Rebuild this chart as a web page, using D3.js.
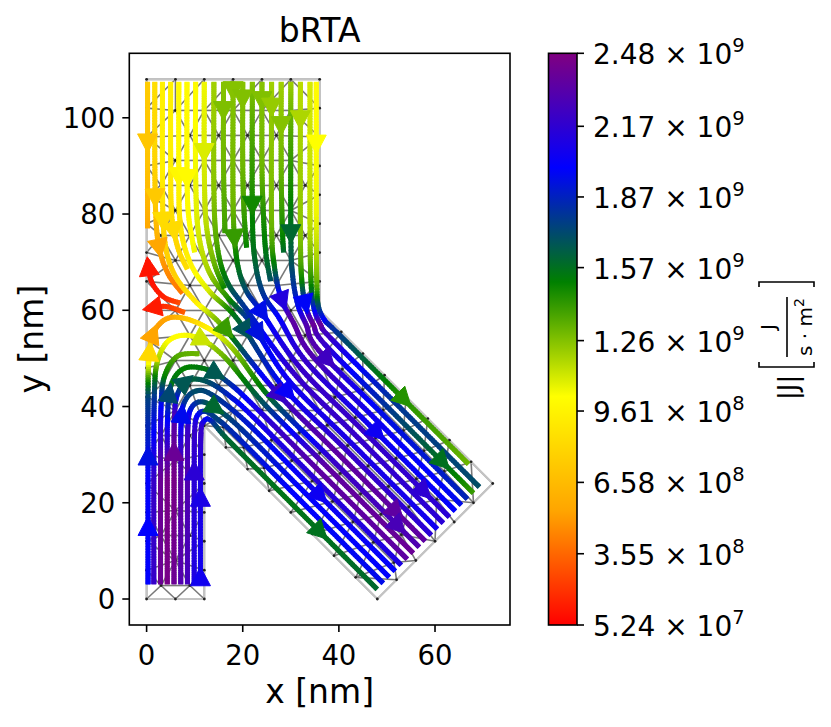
<!DOCTYPE html>
<html><head><meta charset="utf-8">
<script src="https://cdn.jsdelivr.net/npm/d3@7"></script>
<style>body{margin:0;background:#fff} text{font-family:"DejaVu Sans",sans-serif;fill:#000}</style>
</head><body><svg id="c" width="831" height="727"></svg>
<script>
// ---------------- data ----------------
const titleText = "bRTA";
const xTicks = [0, 20, 40, 60];
const yTicks = [0, 20, 40, 60, 80, 100];
const xDomain = [-3.6, 75.6];
const yDomain = [-5.4, 113.4];
const cbTickValues = [0.0524, 0.355, 0.658, 0.961, 1.26, 1.57, 1.87, 2.17, 2.48];
const cbTickMant = ["5.24", "3.55", "6.58", "9.61", "1.26", "1.57", "1.87", "2.17", "2.48"];
const cbTickExp = ["7", "8", "8", "8", "9", "9", "9", "9", "9"];
const cmapColors = ["red", "orange", "yellow", "green", "blue", "purple"];
const magRange = [0.0524, 2.48];   // |J| in 1e9 J/(s m^2)
const boundary = [[0,0],[12,0],[12,36],[48,0],[72,24],[36,60],[36,108],[0,108]];
const meshSpacing = 6;

// streamlines (nm) with |J| (1e9) at each control point; arrows at control-point parameter
const streamPaths = [
  [[0.2,107.5],[0.2,90],[0.2,77]],
  [[1.7,107.5],[1.7,92],[1.9,80],[2.6,73],[4.5,67.5],[7.5,63.5]],
  [[3.3,107.5],[3.3,90],[3.6,76],[5.5,68],[10,62],[16,56.5],[27,43],[40,30],[58,12]],
  [[5,107.5],[5,92],[5.2,80],[6.5,73],[8.5,68.5]],
  [[6.7,107.5],[6.7,90],[7,78],[9,70],[13,64],[19,58],[28.25,44.25],[41.25,31.25],[59.25,13.25]],
  [[8.4,107.5],[8.4,90],[8.7,80],[10,72]],
  [[10.2,107.5],[10.2,88],[10.8,76],[13,68],[17,62.5],[22,57],[29.5,45.5],[42.5,32.5],[60.5,14.5]],
  [[12,107.5],[12,90],[12.4,78],[14,70],[16.2,64.5]],
  [[14,107.5],[14,85],[14.6,74],[16.5,66.5],[20.5,60.5],[30.75,46.75],[43.75,33.75],[61.75,15.75]],
  [[16,107.5],[16,90],[16.3,76]],
  [[18,107.5],[18,82],[18.7,71],[20.5,64.5],[24,59.5],[32,48],[45,35],[63,17]],
  [[20,107.5],[20,90],[20.3,80],[20.8,73]],
  [[22,107.5],[22,80],[22.6,70],[24.3,63.3],[27.5,58.5],[33.25,49.25],[46.25,36.25],[64.25,18.25]],
  [[24,107.5],[24,90],[24.3,80],[24.8,72],[25.8,66]],
  [[26,107.5],[26,78],[26.6,69],[28,62.5],[30.5,57.5],[34.5,50.5],[47.5,37.5],[65.5,19.5]],
  [[28,107.5],[28,90],[28.2,78],[28.5,72]],
  [[30,107.5],[30,76],[30.4,67],[31.5,61],[33.2,57],[35.75,51.75],[48.75,38.75],[66.75,20.75]],
  [[32,107.5],[32,76],[32.3,66],[33.2,60.5],[34.7,57],[37,53],[50,40],[68,22]],
  [[34,107.5],[34,78],[34.2,66],[34.8,60.5],[36.2,57],[38.25,54.25],[51.25,41.25],[69.25,23.25]],
  [[35.3,107.5],[35.3,80],[35.4,66],[35.7,61],[37,58],[39.5,55.5],[52.5,42.5],[67,28]],
  [[11.2,3],[11.2,25],[11.3,34.5],[11.8,36.8],[13.3,37.2],[17,33],[30,20],[48,2]],
  [[9.9,3],[9.9,25],[10,35],[10.6,38.2],[12.3,39],[14.8,37.3],[18.25,34.25],[31.25,21.25],[49.25,3.25]],
  [[8.5,3],[8.5,25],[8.6,36],[9.3,39.7],[11.3,41],[14.3,39.7],[19.5,35.5],[32.5,22.5],[50.5,4.5]],
  [[7.1,3],[7.1,25],[7.2,37],[8,41.2],[10.2,43.2],[13.5,42.5],[20.75,36.75],[33.75,23.75],[51.75,5.75]],
  [[5.7,3],[5.7,25],[5.8,38],[6.6,43],[9,45.6],[13,45],[17.5,42],[22,38],[35,25],[53,7]],
  [[4.3,3],[4.3,25],[4.4,39],[5.3,45],[8,48],[12.5,47.7],[17,45],[23.25,39.25],[36.25,26.25],[54.25,8.25]],
  [[2.9,3],[2.9,25],[3,40],[3.8,46.5],[6.5,50.5],[11,51]],
  [[1.5,3],[1.5,25],[1.6,42],[2.3,49.5],[5,54],[10,54.5],[16,50.5],[24.5,40.5],[37.5,27.5],[55.5,9.5]],
  [[0.3,3],[0.3,25],[0.3,42],[0.5,50],[1.5,55.5],[5,58.5],[11,57.2],[17.5,52.5],[25.75,41.75],[38.75,28.75],[56.75,10.75]],
  [[7,61.5],[3.5,62.8],[1,66],[0.2,70.5]],
  [[8,59.5],[4,60.8],[0.5,60.4]]
];
const streamMags = [
  [0.75,0.7,0.55],
  [0.85,0.8,0.7,0.55,0.45,0.4],
  [0.95,0.95,0.8,0.75,0.9,1.35,2.2,2.35,2.35],
  [0.95,0.95,0.85,0.8,0.85],
  [1.0,1.0,0.9,0.95,1.1,1.6,2.0,2.2,2.15],
  [1.0,1.0,1.0,1.05],
  [1.0,1.05,1.1,1.2,1.45,1.9,2.05,2.1,2.05],
  [1.05,1.1,1.15,1.3,1.5],
  [1.2,1.25,1.35,1.55,1.8,2.2,2.2,2.15],
  [1.25,1.3,1.4],
  [1.25,1.3,1.5,1.7,1.95,2.2,2.2,2.15],
  [1.25,1.3,1.4,1.5],
  [1.25,1.5,1.6,1.8,2.0,2.2,2.05,2.0],
  [1.25,1.3,1.45,1.55,1.7],
  [1.2,1.3,1.55,2.1,2.35,2.3,2.05,1.95],
  [1.2,1.3,1.45,1.6],
  [1.2,1.6,1.75,1.95,2.3,2.3,1.95,1.85],
  [1.15,1.25,1.5,2.1,2.4,2.2,1.8,1.4],
  [1.1,1.15,1.45,1.9,2.4,2.2,1.8,1.7],
  [1.0,1.05,1.3,1.7,2.0,1.8,1.45,1.3],
  [2.05,2.1,2.2,2.1,1.9,1.6,1.55,1.6],
  [2.1,2.15,2.2,2.0,1.8,1.75,1.85,2.0,1.95],
  [2.25,2.3,2.2,1.9,1.75,1.6,1.8,2.0,2.0],
  [2.3,2.35,2.0,1.8,1.7,1.75,1.9,2.05,2.0],
  [2.4,2.45,2.3,1.8,1.6,1.7,1.9,2.05,2.15,2.1],
  [2.45,2.45,1.9,1.55,1.5,1.55,1.8,2.1,2.35,2.35],
  [2.4,2.4,2.0,1.5,1.35,1.3],
  [2.2,2.2,1.8,1.2,1.0,1.05,1.3,1.7,2.35,2.4],
  [2.0,2.0,1.75,0.9,0.5,0.55,0.85,1.2,1.6,2.2,2.3],
  [0.3,0.15,0.1,0.12],
  [0.35,0.2,0.1]
];
const arrowParams = [
  [0.73],[1.67,3.0],[1.78,5.06,6.05,7.6],[2.43],[1.15,5.2,6.1],[1.2],[5.2],[0.83],[],[0.4],
  [0.11,1.53,4.0,6.64],[0.26],[0.91,6.1],[0.28],[0.23,3.1],[0.55],[1.0,5.2],[0.3,2.8,6.58],[],[0.5,6.07],
  [0.11,0.8,6.32],[1.1],[5.0],[2.2,7.13],[1.35,3.67],[2.5,5.45],[],[5.3],[0.58,1.24,3.2,3.9,9.69],
  [2.6],[1.7]
];

// ---------------- setup ----------------
const svg = d3.select("#c");
svg.append("rect").attr("width",831).attr("height",727).attr("fill","#fff");
const ax = {l:129.3, r:510, t:53.3, b:625};
const x = d3.scaleLinear().domain(xDomain).range([ax.l, ax.r]);
const y = d3.scaleLinear().domain(yDomain).range([ax.b, ax.t]);
const color = d3.scaleLinear()
  .domain(cmapColors.map((c,i)=>magRange[0]+(magRange[1]-magRange[0])*i/(cmapColors.length-1)))
  .range(cmapColors).clamp(true);

// ---------------- mesh ----------------
function segDist(p,a,b){
  const dx=b[0]-a[0], dy=b[1]-a[1];
  let t=((p[0]-a[0])*dx+(p[1]-a[1])*dy)/(dx*dx+dy*dy);
  t=Math.max(0,Math.min(1,t));
  return Math.hypot(p[0]-a[0]-t*dx, p[1]-a[1]-t*dy);
}
function boundDist(p){
  let m=Infinity;
  for(let i=0;i<boundary.length;i++) m=Math.min(m,segDist(p,boundary[i],boundary[(i+1)%boundary.length]));
  return m;
}
const nodes=[];
function tryAdd(p,minD){
  for(const q of nodes) if(Math.hypot(p[0]-q[0],p[1]-q[1])<minD) return;
  nodes.push(p);
}
for(let i=0;i<boundary.length;i++){
  const a=boundary[i], b=boundary[(i+1)%boundary.length];
  const L=Math.hypot(b[0]-a[0],b[1]-a[1]);
  const n=Math.max(1,Math.round(L/meshSpacing));
  for(let k=0;k<n;k++) nodes.push([a[0]+(b[0]-a[0])*k/n, a[1]+(b[1]-a[1])*k/n]);
}
const rowH = meshSpacing*Math.sqrt(3)/2;
for(let j=0;j<24;j++){
  const yy = 2.8 + j*rowH;
  for(let i=-1;i<8;i++){
    const xx = 3 + i*meshSpacing + (j%2)*meshSpacing/2;
    const p=[xx,yy];
    const inRect = (xx<=36 && yy>=36) || xx<=12;
    if(inRect && d3.polygonContains(boundary,p) && boundDist(p)>2.2) tryAdd(p,3.2);
  }
}
{
  const a=[Math.SQRT1_2,-Math.SQRT1_2], nv=[Math.SQRT1_2,Math.SQRT1_2];
  const O=[12,36];
  for(let j=0;j<8;j++){
    for(let i=-4;i<14;i++){
      const d = 3 + i*meshSpacing + (j%2)*meshSpacing/2, w = 2.6 + j*rowH;
      const p=[O[0]+a[0]*d+nv[0]*w, O[1]+a[1]*d+nv[1]*w];
      if(p[0]<=36 && p[1]>=36) continue;
      if(d3.polygonContains(boundary,p) && boundDist(p)>2.2) tryAdd(p,3.4);
    }
  }
}
const del = d3.Delaunay.from(nodes);
const edgeSet = new Map();
const tri = del.triangles;
for(let i=0;i<tri.length;i+=3){
  const ids=[tri[i],tri[i+1],tri[i+2]];
  const c=[(nodes[ids[0]][0]+nodes[ids[1]][0]+nodes[ids[2]][0])/3,(nodes[ids[0]][1]+nodes[ids[1]][1]+nodes[ids[2]][1])/3];
  if(!d3.polygonContains(boundary,c)) continue;
  for(let k=0;k<3;k++){
    const a=ids[k], b=ids[(k+1)%3];
    const key=a<b?a+"-"+b:b+"-"+a;
    edgeSet.set(key,[a,b]);
  }
}
const gMesh = svg.append("g");
gMesh.selectAll("line").data([...edgeSet.values()]).join("line")
  .attr("x1",d=>x(nodes[d[0]][0])).attr("y1",d=>y(nodes[d[0]][1]))
  .attr("x2",d=>x(nodes[d[1]][0])).attr("y2",d=>y(nodes[d[1]][1]))
  .attr("stroke","#6a6a6a").attr("stroke-width",1.6).attr("stroke-opacity",0.9);
gMesh.append("polygon").attr("points",boundary.map(p=>[x(p[0]),y(p[1])].join(",")).join(" "))
  .attr("fill","none").attr("stroke","#c4c4c4").attr("stroke-width",2.2);
gMesh.selectAll("circle").data(nodes).join("circle")
  .attr("cx",d=>x(d[0])).attr("cy",d=>y(d[1])).attr("r",1.4).attr("fill","#222");

// ---------------- streamlines ----------------
function cr(p0,p1,p2,p3,t){
  const t2=t*t,t3=t2*t;
  return [0,1].map(k=>0.5*(2*p1[k]+(-p0[k]+p2[k])*t+(2*p0[k]-5*p1[k]+4*p2[k]-p3[k])*t2+(-p0[k]+3*p1[k]-3*p2[k]+p3[k])*t3));
}
function crd(p0,p1,p2,p3,t){
  return [0,1].map(k=>0.5*((-p0[k]+p2[k])+2*(2*p0[k]-5*p1[k]+4*p2[k]-p3[k])*t+3*(-p0[k]+3*p1[k]-3*p2[k]+p3[k])*t*t));
}
const gLines = svg.append("g");
const gArrows = svg.append("g");
const lineW = 5;
streamPaths.forEach((pts,li)=>{
  const P=pts.map(p=>[x(p[0]),y(p[1])]);
  const M=streamMags[li];
  const n=P.length;
  const seg=i=>[P[Math.max(i-1,0)],P[i],P[i+1],P[Math.min(i+2,n-1)]];
  const samples=[];
  for(let i=0;i<n-1;i++){
    const s=seg(i);
    const L=Math.hypot(s[2][0]-s[1][0],s[2][1]-s[1][1]);
    const k=Math.max(2,Math.ceil(L/2.5));
    const last=(i===n-2);
    for(let j=0;j<(last?k+1:k);j++){
      const t=j/k;
      samples.push({p:cr(...s,t),v:M[i]+(M[i+1]-M[i])*t});
    }
  }
  const ns=samples.length;
  for(let i=0;i<ns-1;i++){
    const a=samples[i].p, b=samples[i+1].p;
    const dx=b[0]-a[0], dy=b[1]-a[1], dl=Math.hypot(dx,dy)||1;
    const ex=dx/dl*0.8, ey=dy/dl*0.8;
    const a2=i>0?[a[0]-ex,a[1]-ey]:a;
    const b2=i<ns-2?[b[0]+ex,b[1]+ey]:b;
    gLines.append("line").attr("x1",a2[0]).attr("y1",a2[1]).attr("x2",b2[0]).attr("y2",b2[1])
      .attr("stroke",color((samples[i].v+samples[i+1].v)/2)).attr("stroke-width",lineW).attr("stroke-linecap","butt");
  }
  (arrowParams[li]||[]).forEach(u=>{
    const i=Math.min(Math.floor(u),n-2), f=u-i;
    const s=seg(i);
    const pos=cr(...s,f), dv=crd(...s,f);
    const dl=Math.hypot(dv[0],dv[1])||1;
    const d=[dv[0]/dl,dv[1]/dl], pp=[-d[1],d[0]];
    const Lh=19, W=20;
    const tip=[pos[0]+d[0]*Lh*0.55,pos[1]+d[1]*Lh*0.55];
    const bc=[pos[0]-d[0]*Lh*0.45,pos[1]-d[1]*Lh*0.45];
    const c1=[bc[0]+pp[0]*W/2,bc[1]+pp[1]*W/2], c2=[bc[0]-pp[0]*W/2,bc[1]-pp[1]*W/2];
    const col=color(M[i]+(M[i+1]-M[i])*f);
    gArrows.append("path").attr("d",`M${tip}L${c1}L${c2}Z`).attr("fill",col).attr("stroke",col).attr("stroke-width",1).attr("stroke-linejoin","miter");
  });
});

// ---------------- axes ----------------
svg.append("rect").attr("x",ax.l).attr("y",ax.t).attr("width",ax.r-ax.l).attr("height",ax.b-ax.t)
  .attr("fill","none").attr("stroke","#000").attr("stroke-width",1.6);
const gx=svg.append("g");
xTicks.forEach(t=>{
  gx.append("line").attr("x1",x(t)).attr("x2",x(t)).attr("y1",ax.b).attr("y2",ax.b+7).attr("stroke","#000").attr("stroke-width",1.6);
  gx.append("text").attr("x",x(t)).attr("y",ax.b+40).attr("text-anchor","middle").attr("font-size",27.5).text(t);
});
yTicks.forEach(t=>{
  gx.append("line").attr("x1",ax.l-7).attr("x2",ax.l).attr("y1",y(t)).attr("y2",y(t)).attr("stroke","#000").attr("stroke-width",1.6);
  gx.append("text").attr("x",ax.l-14).attr("y",y(t)+10).attr("text-anchor","end").attr("font-size",27.5).text(t);
});
svg.append("text").attr("x",(ax.l+ax.r)/2).attr("y",703).attr("text-anchor","middle").attr("font-size",33).text("x [nm]");
svg.append("text").attr("transform",`translate(43,${(ax.t+ax.b)/2}) rotate(-90)`).attr("text-anchor","middle").attr("font-size",33).text("y [nm]");
svg.append("text").attr("x",(ax.l+ax.r)/2).attr("y",42).attr("text-anchor","middle").attr("font-size",33).text(titleText);

// ---------------- colorbar ----------------
const cb={l:548.5,r:577,t:ax.t,b:ax.b};
const cbY=d3.scaleLinear().domain(magRange).range([cb.b,cb.t]);
const grad=svg.append("defs").append("linearGradient").attr("id","cbg").attr("x1",0).attr("y1",1).attr("x2",0).attr("y2",0);
d3.range(0,1.0001,0.02).forEach(f=>{
  grad.append("stop").attr("offset",f).attr("stop-color",color(magRange[0]+(magRange[1]-magRange[0])*f));
});
svg.append("rect").attr("x",cb.l).attr("y",cb.t).attr("width",cb.r-cb.l).attr("height",cb.b-cb.t)
  .attr("fill","url(#cbg)").attr("stroke","#000").attr("stroke-width",1.6);
cbTickValues.forEach((v,i)=>{
  svg.append("line").attr("x1",cb.r).attr("x2",cb.r+7).attr("y1",cbY(v)).attr("y2",cbY(v)).attr("stroke","#000").attr("stroke-width",1.6);
  const t=svg.append("text").attr("x",cb.r+16).attr("y",cbY(v)+11).attr("font-size",28);
  t.append("tspan").text(cbTickMant[i]+" \u00d7 10");
  t.append("tspan").attr("dy",-12).attr("font-size",19.5).text(cbTickExp[i]);
});
const gl=svg.append("g").attr("transform","translate(787,341) rotate(-90)");
gl.append("text").attr("x",-59).attr("y",10).attr("font-size",26).text("|J|");
gl.append("path").attr("d","M-21,-28H-26V27H-21").attr("fill","none").attr("stroke","#000").attr("stroke-width",1.6);
gl.append("path").attr("d","M54,-28H59V27H54").attr("fill","none").attr("stroke","#000").attr("stroke-width",1.6);
gl.append("line").attr("x1",-16).attr("x2",44).attr("y1",0).attr("y2",0).attr("stroke","#000").attr("stroke-width",1.6);
gl.append("text").attr("x",14).attr("y",-12).attr("text-anchor","middle").attr("font-size",20).text("J");
const den=gl.append("text").attr("x",14).attr("y",25).attr("text-anchor","middle").attr("font-size",20);
den.append("tspan").text("s \u00b7 m");
den.append("tspan").attr("dy",-8).attr("font-size",14).text("2");
</script></body></html>
